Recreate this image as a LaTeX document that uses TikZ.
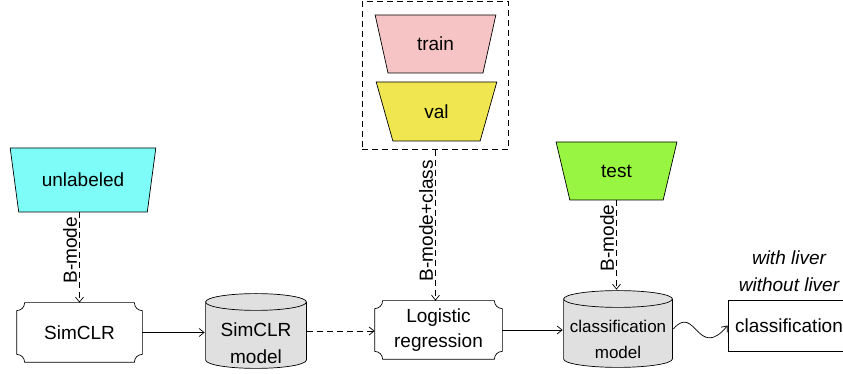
\documentclass[tikz,border=0pt]{standalone}
\usepackage{fontspec}
\setmainfont{Liberation Sans}
\usetikzlibrary{arrows,arrows.meta,shapes,calc,fit}
\definecolor{unlcyan}{RGB}{125,252,248}
\definecolor{trainpink}{RGB}{246,196,196}
\definecolor{valyellow}{RGB}{240,230,80}
\definecolor{testgreen}{RGB}{152,245,65}
\definecolor{dbgray}{RGB}{224,224,224}

% box with inward bent corners
\newcommand{\notchframe}[2][8]{%
  \draw ($(#2.north west)+(#1pt,0)$) -- ($(#2.north east)+(-#1pt,0)$)
    arc[start angle=180,end angle=270,radius=#1pt]
    -- ($(#2.south east)+(0,#1pt)$)
    arc[start angle=90,end angle=180,radius=#1pt]
    -- ($(#2.south west)+(#1pt,0)$)
    arc[start angle=0,end angle=90,radius=#1pt]
    -- ($(#2.north west)+(0,-#1pt)$)
    arc[start angle=270,end angle=360,radius=#1pt] -- cycle;}

\begin{document}
\begin{tikzpicture}[x=1pt, y=1pt, >={Straight Barb[length=5pt,width=8pt]}, line width=0.7pt,
  txt/.style={font=\fontsize{19}{25}\selectfont},
  data/.style={trapezium, trapezium stretches=true, shape border rotate=180, trapezium angle=74, draw, minimum width=121, minimum height=58, txt},
  db/.style={rectangle, inner sep=0pt, align=center, path picture={
    \draw[fill=dbgray] let \p1=(path picture bounding box.north west), \p2=(path picture bounding box.south east),
      \n1={(\x2-\x1)/2-0.6pt} in
      (\x1+0.6pt,\y1-9pt) -- (\x1+0.6pt,\y2+9pt) arc[start angle=180, end angle=360, x radius=\n1, y radius=8.4pt]
      -- (\x2-0.6pt,\y1-9pt) arc[start angle=0, end angle=360, x radius=\n1, y radius=8.4pt];}},
  proc/.style={minimum width=125, minimum height=59, align=center, txt},
  dashline/.style={dash pattern=on 6pt off 4pt},
  lbl/.style={pos=0.42, rotate=90, anchor=south, inner sep=2pt, txt}]
\useasboundingbox (0,0) rectangle (843,374);

\node[data, fill=unlcyan, minimum width=146, minimum height=64] (unl) at (83,194) {unlabeled};
\node[proc] (simclr) at (79.5,41.5) {SimCLR};
\notchframe{simclr}
\node[db, minimum width=102, minimum height=76, font=\fontsize{19}{27}\selectfont] (m1) at (256,43) {\rule{0pt}{12pt}\\SimCLR\\model};

\node[data, fill=trainpink] (train) at (435.5,330) {train};
\node[data, fill=valyellow, minimum height=59] (val) at (436.5,262.5) {val};
\node[draw, dashline, fit=(train)(val), inner xsep=19, inner ysep=10.5, yshift=2.5] (tv) {};
\node[proc, minimum width=127, minimum height=58] (logreg) at (438.5,44) {Logistic\\regression};
\notchframe{logreg}

\node[data, fill=testgreen] (test) at (616.5,203) {test};
\node[db, minimum width=110, minimum height=78, font=\fontsize{17}{26}\selectfont] (m2) at (618,45) {\rule{0pt}{8pt}\\classification\\model};
\node[draw, minimum width=122, minimum height=51, txt] (out) at (789,48.5) {classification};
\node[font=\fontsize{19}{27}\selectfont\itshape, align=center] (cls) at (789,103) {with liver\\without liver};

\draw[->, dashline] (simclr.north |- unl.south) -- node[lbl] {B-mode} (simclr.north);
\draw[->] (simclr.east) -- (simclr.east -| m1.west);
\draw[->, dashline] (m1.east) -- (m1.east -| logreg.west);
\draw[->, dashline] (tv.south) -- node[lbl, pos=0.47] {B-mode+class} (tv.south |- logreg.north);
\draw[->] (logreg.east) -- (logreg.east -| m2.west);
\draw[->, dashline] (test.south) -- node[lbl] {B-mode} (test.south |- m2.north);
\draw[->] (m2.east) .. controls +(22,26) and +(-30,-36) .. (out.west);
\end{tikzpicture}
\end{document}
